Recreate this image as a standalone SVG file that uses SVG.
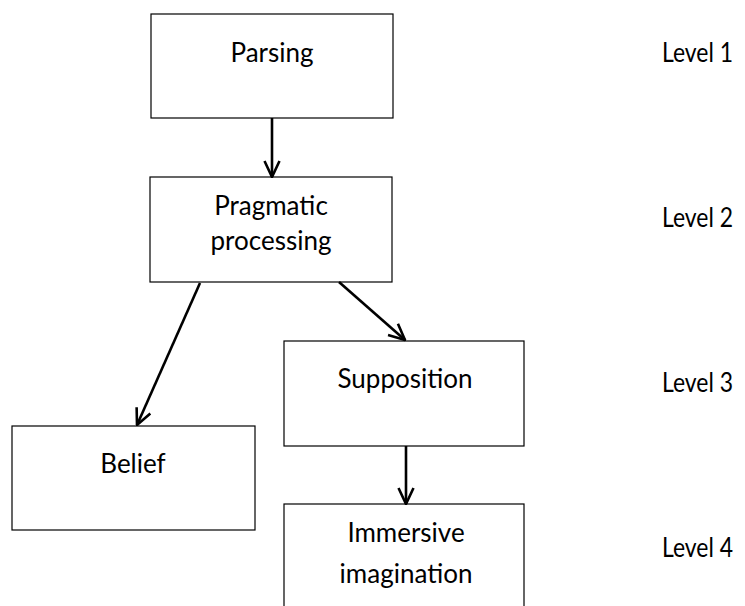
<svg xmlns="http://www.w3.org/2000/svg" width="745" height="606" viewBox="0 0 745 606">
<defs>
<style>
.box{fill:#fff;stroke:#000;stroke-width:1.2}
.t{font-family:Lato,"Open Sans","Liberation Sans",sans-serif;font-size:26px;fill:#000;text-anchor:middle}
.lv{font-family:Lato,"Open Sans","Liberation Sans",sans-serif;font-size:26px;fill:#000}
.c{stroke:#000;stroke-width:2.6;fill:none}
</style>
<marker id="ah" viewBox="0 0 18 18" refX="17" refY="9" markerWidth="18" markerHeight="18" markerUnits="userSpaceOnUse" orient="auto">
<path d="M1,1.5 L17,9 L1,16.5" fill="none" stroke="#000" stroke-width="2.6"/>
</marker>
</defs>
<rect width="745" height="606" fill="#fff"/>
<g id="parsing"><rect class="box" x="151" y="14" width="242" height="104"/><text class="t" x="272" y="62">Parsing</text></g>
<g id="pragmatic"><rect class="box" x="150" y="177" width="242" height="105"/><text class="t" x="271" y="215">Pragmatic</text><text class="t" x="271" y="250">processing</text></g>
<g id="supposition"><rect class="box" x="284" y="341" width="240" height="105"/><text class="t" x="405" y="388">Supposition</text></g>
<g id="belief"><rect class="box" x="12" y="426" width="243" height="104"/><text class="t" x="133" y="473">Belief</text></g>
<g id="immersive"><rect class="box" x="284" y="504" width="240" height="120"/><text class="t" x="406" y="542">Immersive</text><text class="t" x="406" y="583">imagination</text></g>
<g id="levels">
<text class="lv" x="662" y="62" textLength="71" lengthAdjust="spacingAndGlyphs">Level 1</text>
<text class="lv" x="662" y="227" textLength="71" lengthAdjust="spacingAndGlyphs">Level 2</text>
<text class="lv" x="662" y="392" textLength="71" lengthAdjust="spacingAndGlyphs">Level 3</text>
<text class="lv" x="662" y="557" textLength="71" lengthAdjust="spacingAndGlyphs">Level 4</text>
</g>
<g id="connectors">
<line class="c" x1="272" y1="118" x2="272" y2="177" marker-end="url(#ah)"/>
<line class="c" x1="200" y1="283" x2="137" y2="425" marker-end="url(#ah)"/>
<line class="c" x1="339" y1="282" x2="405" y2="340" marker-end="url(#ah)"/>
<line class="c" x1="406" y1="446" x2="406" y2="504" marker-end="url(#ah)"/>
</g>
</svg>
